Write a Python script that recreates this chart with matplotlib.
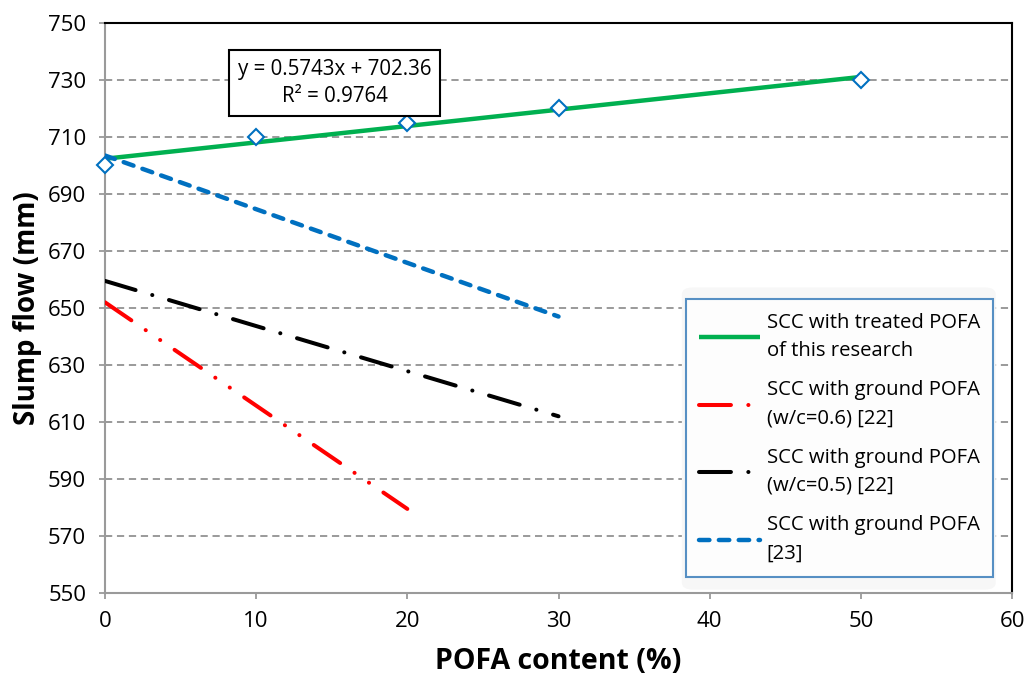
import matplotlib
matplotlib.use("Agg")
import matplotlib.pyplot as plt
from matplotlib.patches import FancyBboxPatch

plt.rcParams["font.family"] = ["Open Sans", "DejaVu Sans"]
plt.rcParams["lines.scale_dashes"] = False

# measured slump flow, this research
pofa = [0, 10, 20, 30, 50]
slump = [700, 710, 715, 720, 730]
slope, intercept = 0.5743, 702.36
r2 = 0.9764

# literature trend lines (end points)
ref22_06_x = [0, 20]
ref22_06_y = [652, 579.5]
ref22_05_x = [0, 30]
ref22_05_y = [659.5, 612]
ref23_x = [0, 30]
ref23_y = [703.5, 647]

GREEN = "#00B050"
BLUE = "#0070C0"
GRID = "#9A9A9A"

fig = plt.figure(figsize=(10.26, 6.78), dpi=100)
ax = fig.add_axes([0.1023, 0.1254, 0.8841, 0.8407])

fit_x = [pofa[0], pofa[-1]]
fit_y = [slope * x + intercept for x in fit_x]
ax.plot(fit_x, fit_y, color=GREEN, lw=3.2, solid_capstyle="butt", zorder=3,
        label="SCC with treated POFA\nof this research")
ax.plot(ref22_06_x, ref22_06_y, color="#FF0000", lw=2.9,
        dashes=[23, 12.5, 0.1, 12.5, 0.1, 12.5], dash_capstyle="round", zorder=3,
        label="SCC with ground POFA\n(w/c=0.6) [22]")
ax.plot(ref22_05_x, ref22_05_y, color="black", lw=2.9,
        dashes=[23, 12.5, 0.1, 12.5], dash_capstyle="round", zorder=3,
        label="SCC with ground POFA\n(w/c=0.5) [22]")
ax.plot(ref23_x, ref23_y, color=BLUE, lw=3.2,
        dashes=[7.5, 6.8], dash_capstyle="round", zorder=3,
        label="SCC with ground POFA\n[23]")
ax.plot(pofa, slump, ls="none", marker="D", ms=8.5, mfc="white", mec=BLUE,
        mew=1.5, clip_on=False, zorder=4)

ax.set_xlim(0, 60)
ax.set_ylim(550, 750)
ax.set_xticks(range(0, 61, 10))
ax.set_yticks(range(550, 751, 20))
ax.grid(axis="y", color=GRID, lw=1.4, linestyle=(0, (5.2, 3.4)))
ax.set_axisbelow(True)

for side in ("left", "bottom"):
    ax.spines[side].set_color(GRID)
    ax.spines[side].set_linewidth(1.5)
for side in ("top", "right"):
    ax.spines[side].set_color("black")
    ax.spines[side].set_linewidth(1.5)

ax.tick_params(axis="y", direction="inout", length=9, width=1.3, color=GRID,
               labelsize=16, pad=9)
ax.tick_params(axis="x", direction="out", length=4, width=1.3, color=GRID,
               labelsize=16, pad=9)

ax.set_xlabel("POFA content (%)", fontsize=20.5, fontweight="bold", labelpad=11)
ax.set_ylabel("Slump flow (mm)", fontsize=20, fontweight="bold", labelpad=4)

ax.text(0.253, 0.895, f"y = {slope}x + {intercept}\nR² = {r2}",
        transform=ax.transAxes, ha="center", va="center", fontsize=14.8,
        multialignment="center", linespacing=1.4, zorder=6,
        bbox=dict(boxstyle="square,pad=0.42", fc="white", ec="black", lw=1.5))

# soft grey backdrop behind the legend
glow = FancyBboxPatch((0.636, 0.006), 0.346, 0.530, transform=ax.transAxes,
                      boxstyle="round,pad=0,rounding_size=0.012",
                      fc="#F7F7F7", ec="none", zorder=4)
ax.add_patch(glow)

leg = ax.legend(loc="center", bbox_to_anchor=(0.8097, 0.2718), fontsize=14.6,
                frameon=True, fancybox=False, edgecolor="#2E75B6",
                handlelength=3.0, handletextpad=0.35, labelspacing=0.95,
                borderpad=0.65, borderaxespad=0)
leg.get_frame().set_linewidth(1.5)
leg.set_zorder(5)
for t in leg.get_texts():
    t.set_linespacing(1.55)

fig.savefig("out.png", dpi=100)
